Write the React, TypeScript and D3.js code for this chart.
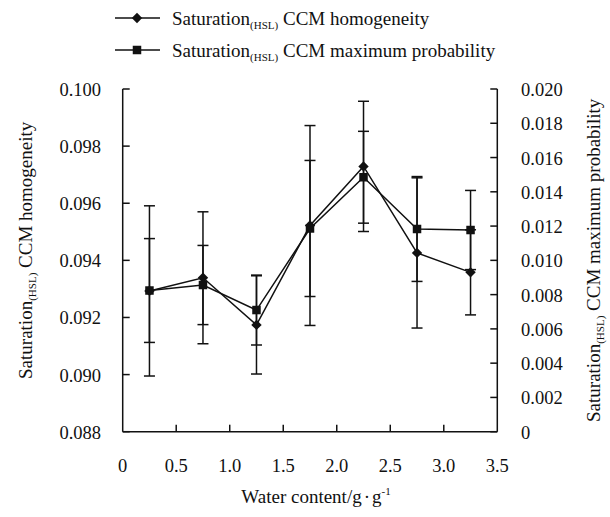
import React from "react";
import * as d3 from "d3";

// Water content (g·g⁻¹) at which each sample was measured
const waterContent = [0.25, 0.75, 1.25, 1.75, 2.25, 2.75, 3.25];

// Saturation(HSL) CCM homogeneity, mean and standard deviation (left axis)
const homogeneity = [0.09293, 0.09339, 0.09174, 0.09522, 0.09729, 0.09426, 0.09358];
const homogeneityErr = [0.00298, 0.00231, 0.00172, 0.0035, 0.00228, 0.00263, 0.00149];

// Saturation(HSL) CCM maximum probability, mean and standard deviation (right axis)
const maxProb = [0.00824, 0.00856, 0.0071, 0.01186, 0.01485, 0.01183, 0.01177];
const maxProbErr = [0.00303, 0.00231, 0.00204, 0.00397, 0.00268, 0.00306, 0.00231];

const xTicks = [0, 0.5, 1.0, 1.5, 2.0, 2.5, 3.0, 3.5];
const xTickLabels = ["0", "0.5", "1.0", "1.5", "2.0", "2.5", "3.0", "3.5"];
const leftTicks = [0.088, 0.09, 0.092, 0.094, 0.096, 0.098, 0.1];
const rightTicks = [0, 0.002, 0.004, 0.006, 0.008, 0.01, 0.012, 0.014, 0.016, 0.018, 0.02];

const W = 610;
const H = 517;
const left = 122.7;
const right = 497.3;
const top = 89;
const bottom = 431.7;

const FONT = "Liberation Serif";
const INK = "#111";

const x = d3.scaleLinear().domain([0, 3.5]).range([left, right]);
const yL = d3.scaleLinear().domain([0.088, 0.1]).range([bottom, top]);
const yR = d3.scaleLinear().domain([0, 0.02]).range([bottom, top]);

const CAP = 5.5;
const TICK = 7;

const textStyle = { fontFamily: FONT };

function Diamond({ cx, cy, r = 5.2 }: { cx: number; cy: number; r?: number }) {
  const p = `M${cx},${cy - r}L${cx + r},${cy}L${cx},${cy + r}L${cx - r},${cy}Z`;
  return <path d={p} fill={INK} />;
}

function Square({ cx, cy, s = 8.5 }: { cx: number; cy: number; s?: number }) {
  return <rect x={cx - s / 2} y={cy - s / 2} width={s} height={s} fill={INK} />;
}

function ErrorBar({ cx, y1, y2 }: { cx: number; y1: number; y2: number }) {
  return (
    <g stroke={INK} strokeWidth={1.5}>
      <line x1={cx} x2={cx} y1={y1} y2={y2} />
      <line x1={cx - CAP} x2={cx + CAP} y1={y1} y2={y1} />
      <line x1={cx - CAP} x2={cx + CAP} y1={y2} y2={y2} />
    </g>
  );
}

function SatLabel({ rest, size }: { rest: string; size: number }) {
  return (
    <>
      Saturation
      <tspan fontSize={size * 0.58} dy={size * 0.22}>
        (HSL)
      </tspan>
      <tspan dy={-size * 0.22}>{rest}</tspan>
    </>
  );
}

export default function App() {
  const lineL = d3
    .line<number>()
    .x((_, i) => x(waterContent[i]))
    .y((d) => yL(d));
  const lineR = d3
    .line<number>()
    .x((_, i) => x(waterContent[i]))
    .y((d) => yR(d));

  return (
    <svg
      width={W}
      height={H}
      viewBox={`0 0 ${W} ${H}`}
      style={{ position: "absolute", left: 0, top: 0, background: "#fff", fontFamily: FONT }}
    >
      <rect width={W} height={H} fill="#fff" />

      {/* legend */}
      <g fill={INK} fontSize={19} style={textStyle}>
        <line x1={115} x2={160} y1={18} y2={18} stroke={INK} strokeWidth={1.5} />
        <Diamond cx={137} cy={18} />
        <text x={172} y={24.5} style={textStyle}>
          <SatLabel rest=" CCM homogeneity" size={19} />
        </text>
        <line x1={115} x2={160} y1={50} y2={50} stroke={INK} strokeWidth={1.5} />
        <Square cx={137} cy={50} />
        <text x={172} y={56.5} style={textStyle}>
          <SatLabel rest=" CCM maximum probability" size={19} />
        </text>
      </g>

      {/* axes */}
      <g stroke={INK} strokeWidth={1.5} fill="none">
        <line x1={left} x2={left} y1={top} y2={bottom} />
        <line x1={right} x2={right} y1={top} y2={bottom} />
        <line x1={left} x2={right} y1={bottom} y2={bottom} />
        {leftTicks.map((t) => (
          <line key={"l" + t} x1={left} x2={left + TICK} y1={yL(t)} y2={yL(t)} />
        ))}
        {rightTicks.map((t) => (
          <line key={"r" + t} x1={right - TICK} x2={right} y1={yR(t)} y2={yR(t)} />
        ))}
        {xTicks.slice(1, -1).map((t) => (
          <line key={"x" + t} x1={x(t)} x2={x(t)} y1={bottom} y2={bottom - TICK} />
        ))}
      </g>

      {/* tick labels */}
      <g fill={INK} fontSize={18.5} style={textStyle}>
        {leftTicks.map((t) => (
          <text key={"lt" + t} x={101} y={yL(t) + 7} textAnchor="end" style={textStyle}>
            {d3.format(".3f")(t)}
          </text>
        ))}
        {rightTicks.map((t) => (
          <text key={"rt" + t} x={521} y={yR(t) + 7} style={textStyle}>
            {t === 0 ? "0" : d3.format(".3f")(t)}
          </text>
        ))}
        {xTicks.map((t, i) => (
          <text key={"xt" + t} x={x(t)} y={472} textAnchor="middle" style={textStyle}>
            {xTickLabels[i]}
          </text>
        ))}
      </g>

      {/* axis titles */}
      <g fill={INK} fontSize={19} style={textStyle}>
        <text x={316} y={503} textAnchor="middle" style={textStyle}>
          Water content/g
          <tspan dx={2}>·</tspan>
          <tspan dx={2}>g</tspan>
          <tspan fontSize={11} dy={-8}>
            -1
          </tspan>
        </text>
        <text
          transform={`translate(32,${(top + bottom) / 2 - 10}) rotate(-90)`}
          textAnchor="middle"
          style={textStyle}
        >
          <SatLabel rest=" CCM homogeneity" size={19} />
        </text>
        <text
          transform={`translate(600,${(top + bottom) / 2}) rotate(-90)`}
          textAnchor="middle"
          style={textStyle}
        >
          <SatLabel rest=" CCM maximum probability" size={19} />
        </text>
      </g>

      {/* error bars */}
      {waterContent.map((w, i) => (
        <g key={"e" + i}>
          <ErrorBar
            cx={x(w)}
            y1={yL(homogeneity[i] + homogeneityErr[i])}
            y2={yL(homogeneity[i] - homogeneityErr[i])}
          />
          <ErrorBar
            cx={x(w)}
            y1={yR(maxProb[i] + maxProbErr[i])}
            y2={yR(maxProb[i] - maxProbErr[i])}
          />
        </g>
      ))}

      {/* series lines */}
      <path d={lineL(homogeneity) || ""} fill="none" stroke={INK} strokeWidth={1.5} />
      <path d={lineR(maxProb) || ""} fill="none" stroke={INK} strokeWidth={1.5} />

      {/* markers */}
      {waterContent.map((w, i) => (
        <Diamond key={"d" + i} cx={x(w)} cy={yL(homogeneity[i])} />
      ))}
      {waterContent.map((w, i) => (
        <Square key={"s" + i} cx={x(w)} cy={yR(maxProb[i])} />
      ))}
    </svg>
  );
}
